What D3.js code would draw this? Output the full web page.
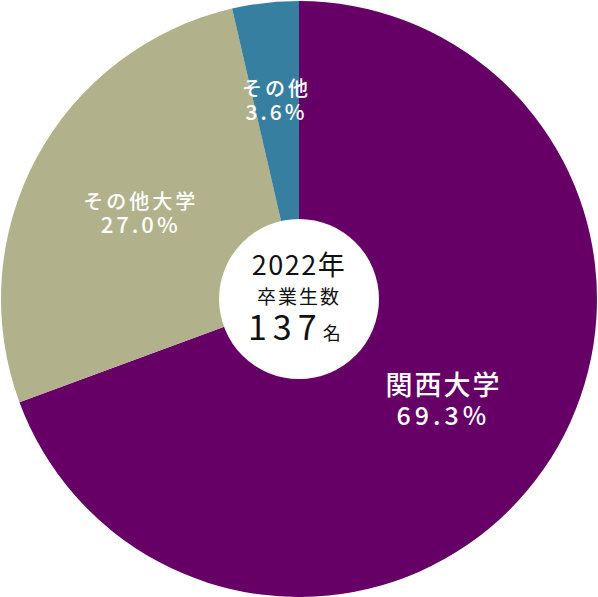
<!DOCTYPE html>
<html><head><meta charset="utf-8">
<script src="https://cdn.jsdelivr.net/npm/d3@7/dist/d3.min.js"></script>
<style>html,body{margin:0;padding:0;background:#fff;}svg{display:block;}</style>
</head><body>
<script>
const categories = ["関西大学", "その他大学", "その他"];
const values = [69.3, 27.0, 3.6];
const percentLabels = ["69.3%", "27.0%", "3.6%"];
const colors = ["#660066", "#b1b28b", "#377fa0"];
const centerYear = "2022年";
const centerTitle = "卒業生数";
const centerCount = "137";
const centerUnit = "名";

const W = 598, H = 597, cx = 299, cy = 299, R = 298;
const svg = d3.select("body").append("svg").attr("width", W).attr("height", H);
const g = svg.append("g").attr("transform", `translate(${cx},${cy})`);
const pie = d3.pie().sort(null).value(d => d)(values);
const arc = d3.arc().innerRadius(0).outerRadius(R);
g.selectAll("path.slice").data(pie).join("path").attr("class","slice")
  .attr("d", arc).attr("fill", (d,i) => colors[i]);

const font = "'Noto Sans CJK JP', 'Noto Sans', sans-serif";
const labelR = [176, 180, 200];
const nameSize = [27, 20, 20];
const pctSize = [25, 22, 21];
const labels = g.selectAll("g.lab").data(pie).join("g").attr("class","lab")
  .attr("transform", (d,i) => {
    const c = d3.arc().innerRadius(labelR[i]).outerRadius(labelR[i]).centroid(d);
    return `translate(${c[0]},${c[1]})`;
  });
labels.append("text").attr("text-anchor","middle").attr("y", (d,i)=> i===0 ? -5 : -4)
  .attr("fill","#fff").attr("font-family", font).attr("font-weight", 500)
  .attr("font-size", (d,i)=>nameSize[i]).attr("letter-spacing", (d,i)=> i===0?2:3)
  .text((d,i)=>categories[i]);
labels.append("text").attr("text-anchor","middle").attr("y", (d,i)=> i===0 ? 25 : 20)
  .attr("fill","#fff").attr("font-family", font).attr("font-weight", 500)
  .attr("font-size", (d,i)=>pctSize[i]).attr("letter-spacing", (d,i)=> i===0?4:3)
  .text((d,i)=>percentLabels[i]);

g.append("circle").attr("r", 80).attr("fill", "#fff");
g.append("text").attr("text-anchor","middle").attr("y", -24)
  .attr("font-family", font).attr("font-size", 27).attr("letter-spacing", 1.5).attr("fill","#111").text(centerYear);
g.append("text").attr("text-anchor","middle").attr("y", 5)
  .attr("font-family", font).attr("font-size", 19).attr("letter-spacing", 2).attr("fill","#111").text(centerTitle);
const cnt = g.append("text").attr("y", 41).attr("font-family", font).attr("fill","#111").attr("x", -51);
cnt.append("tspan").attr("font-size", 34).attr("letter-spacing", 6).text(centerCount);
cnt.append("tspan").attr("font-size", 18).attr("dx", 0).text(centerUnit);
</script>
</body></html>
